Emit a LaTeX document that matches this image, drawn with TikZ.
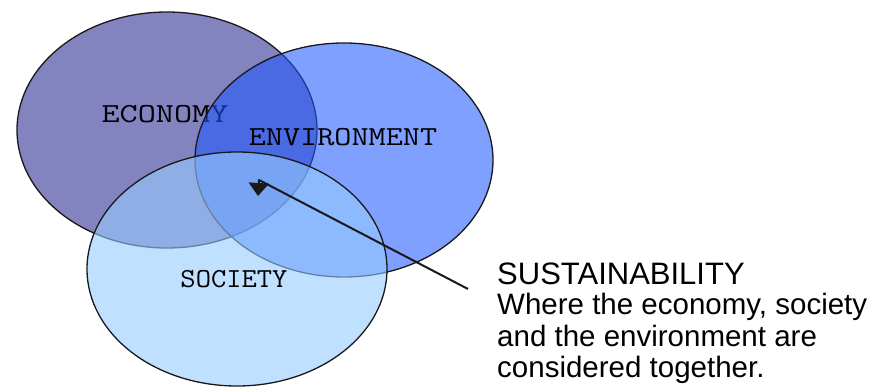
\documentclass[tikz,border=0pt]{standalone}
\usepackage{fontspec}
\newfontfamily\notefont{Liberation Sans}
\usepackage{tikz}
\usetikzlibrary{shapes.geometric, arrows.meta, positioning}
\definecolor{econfill}{RGB}{131,131,192}
\definecolor{envfill}{RGB}{32,88,255}
\definecolor{socfill}{RGB}{150,203,255}
\tikzset{>/.tip={Triangle[width=20pt,length=13pt]}}
\tikzset{venn/.style={ellipse, draw=black!90, line width=1.3pt, inner sep=0pt, minimum width=300pt, minimum height=236pt}}
\tikzset{vennlabel/.style={font=\ttfamily\fontsize{27.5}{27.5}\selectfont, inner sep=0pt, transform shape}}

\begin{document}
\begin{tikzpicture}[x=1pt, y=-1pt]
\useasboundingbox (0,0) rectangle (876,387);
\node(econ) [venn, fill=econfill] at (167,130) {};
\node(econtxt) [vennlabel, xscale=1.28] at (165,114) {ECONOMY};
\node(env) [venn, fill=envfill, fill opacity=0.57, minimum width=298pt, minimum height=234pt] at (344,160) {};
\node(envtxt) [vennlabel, xscale=1.21] at (343,137) {ENVIRONMENT};
\node(soc) [venn, fill=socfill, fill opacity=0.6, minimum height=234pt] at (237,269) {};
\node(soctxt) [vennlabel, xscale=1.08] at (234,279) {SOCIETY};
% pointer into the middle
\coordinate(from) at (468,289);
\coordinate(join) at (259,180);
\coordinate(tip) at (258,196);
\draw[->, line width=2pt, line join=round, black!90] (from) -- (join) -- (tip);
\node(title) [anchor=base west, inner sep=0pt, font=\notefont\fontsize{31}{31}\selectfont] at (497,285) {SUSTAINABILITY};
\node(note) [below=7.5pt of title.south west, anchor=north west, inner sep=0pt, align=left, font=\notefont\fontsize{29.5}{30}\selectfont] {Where the economy, society\\[1.5pt]and the environment are\\[1.5pt]considered together.};
\end{tikzpicture}
\end{document}
